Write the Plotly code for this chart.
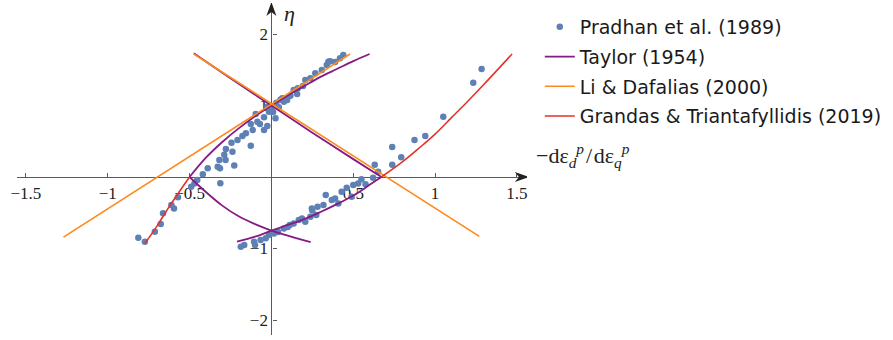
import plotly.graph_objects as go

# ---- Experimental data: Pradhan et al. (1989) ----
data_x = [
    # compression branch (upper band)
    -0.389, -0.328, -0.318, -0.314, -0.288, -0.278, -0.28, -0.244, -0.238, -0.227,
    -0.207, -0.177, -0.156, -0.126, -0.126, -0.114, -0.096, -0.086, -0.07, -0.045,
    -0.045, -0.025, -0.025, -0.015, 0.0, 0.01, 0.025, 0.03, 0.045, 0.055,
    0.066, 0.076, 0.086, 0.096, 0.116, 0.136, 0.157, 0.161, 0.193, 0.207,
    0.238, 0.268, 0.308, 0.338, 0.348, 0.359, 0.389, 0.419, 0.439,
    # extension-side loading near the left crossing
    -0.813, -0.773, -0.712, -0.676, -0.662, -0.611, -0.595, -0.571, -0.49, -0.47,
    -0.453, -0.419, -0.312,
    # extension branch (lower band) and its continuation
    -0.187, -0.166, -0.106, -0.1, -0.066, -0.035, -0.015, 0.015, 0.04, 0.076,
    0.1, 0.112, 0.136, 0.167, 0.187, 0.207, 0.238, 0.247, 0.25, 0.274,
    0.282, 0.318, 0.332, 0.369, 0.389, 0.409, 0.429, 0.46, 0.49, 0.5,
    0.53, 0.55, 0.575, 0.621, 0.631, 0.652, 0.738, 0.738, 0.793, 0.874,
    0.94, 1.05, 1.233, 1.284,
]
data_y = [
    0.122, 0.144, 0.238, 0.122, 0.31, 0.39, 0.238, 0.48, 0.354, 0.16,
    0.517, 0.573, 0.611, 0.74, 0.436, 0.657, 0.88, 0.773, 0.741, 0.835,
    0.657, 0.983, 0.713, 0.913, 0.95, 0.91, 0.82, 1.04, 0.975, 1.08,
    1.10, 1.053, 1.10, 1.077, 1.137, 1.217, 1.161, 1.241, 1.273, 1.357,
    1.38, 1.45, 1.497, 1.566, 1.613, 1.62, 1.61, 1.66, 1.706,
    -0.85, -0.905, -0.765, -0.657, -0.508, -0.392, -0.44, -0.284, -0.135, -0.09,
    -0.042, 0.037, -0.089,
    -0.975, -0.95, -0.905, -0.95, -0.88, -0.857, -0.81, -0.79, -0.77, -0.72,
    -0.70, -0.67, -0.65, -0.60, -0.58, -0.625, -0.555, -0.44, -0.47, -0.53,
    -0.415, -0.39, -0.25, -0.32, -0.30, -0.37, -0.205, -0.15, -0.275, -0.112,
    -0.09, -0.033, -0.10, -0.01, 0.17, 0.075, 0.42, 0.17, 0.275, 0.517,
    0.573, 0.844, 1.319, 1.51,
]

# ---- Taylor (1954): four branches, separated by None ----
taylor_x = [
    -0.5, -0.4, -0.3, -0.2, -0.1, 0.0, 0.1, 0.2, 0.3, 0.4, 0.5, 0.6, None,
    -0.474, -0.25, 0.0, 0.25, 0.5, 0.672, None,
    -0.5, -0.4, -0.3, -0.2, -0.1, 0.0, 0.1, 0.24, None,
    -0.21, -0.1, 0.0, 0.1, 0.2, 0.3, 0.4, 0.5, 0.6, 0.672,
]
taylor_y = [
    0.0, 0.27, 0.49, 0.68, 0.85, 1.0, 1.14, 1.27, 1.40, 1.51, 1.62, 1.72, None,
    1.73, 1.38, 1.0, 0.62, 0.25, 0.0, None,
    0.0, -0.21, -0.40, -0.55, -0.66, -0.75, -0.82, -0.91, None,
    -0.905, -0.835, -0.75, -0.67, -0.59, -0.49, -0.38, -0.26, -0.11, 0.0,
]

# ---- Li & Dafalias (2000): two straight lines ----
ld_x = [-1.27, 0.48, None, -0.474, 1.27]
ld_y = [-0.84, 1.72, None, 1.72, -0.83]

# ---- Grandas & Triantafyllidis (2019) ----
gt_x = [-0.773, -0.70, -0.64, -0.57, -0.5, None,
        0.672, 0.8, 0.9, 1.0, 1.1, 1.2, 1.3, 1.47]
gt_y = [-0.93, -0.69, -0.47, -0.23, 0.0, None,
        0.0, 0.21, 0.40, 0.60, 0.83, 1.06, 1.30, 1.72]

x_ticks = [-1.5, -1, -0.5, 0.5, 1, 1.5]
x_tick_text = ["\u22121.5", "\u22121", "\u22120.5", "0.5", "1", "1.5"]
y_ticks = [-2, -1, 1, 2]
y_tick_text = ["\u22122", "\u22121", "1", "2"]

W, H = 893, 340
X0_PX, XPX_PER_UNIT = 267.5, 165.0
Y0_PX, YPX_PER_UNIT = 177.0, 71.5
AX_LEFT, AX_RIGHT, AX_TOP, AX_BOTTOM = 11, 525, 3, 335

x_range = [(AX_LEFT - X0_PX) / XPX_PER_UNIT, (AX_RIGHT - X0_PX) / XPX_PER_UNIT]
y_range = [(Y0_PX - AX_BOTTOM) / YPX_PER_UNIT, (Y0_PX - AX_TOP) / YPX_PER_UNIT]

BLUE = "#5E81B5"
PURPLE = "#861B86"
ORANGE = "#FF8A1C"
RED = "#E5322A"
AXIS = "#5a5a5a"

fig = go.Figure()
fig.add_trace(go.Scatter(
    x=data_x, y=data_y, mode="markers", name="Pradhan et al. (1989)",
    marker=dict(color=BLUE, size=6.5), legendgroup="a"))
fig.add_trace(go.Scatter(
    x=taylor_x, y=taylor_y, mode="lines", name="Taylor (1954)",
    line=dict(color=PURPLE, width=1.8, shape="spline"), legendgroup="b"))
fig.add_trace(go.Scatter(
    x=ld_x, y=ld_y, mode="lines", name="Li & Dafalias (2000)",
    line=dict(color=ORANGE, width=1.6), legendgroup="c"))
fig.add_trace(go.Scatter(
    x=gt_x, y=gt_y, mode="lines", name="Grandas & Triantafyllidis (2019)",
    line=dict(color=RED, width=1.6, shape="spline"), legendgroup="d"))

tick_font = dict(family="Liberation Serif, serif", size=17, color="#222222")

fig.update_xaxes(
    domain=[AX_LEFT / W, AX_RIGHT / W], range=x_range,
    anchor="free", position=1 - Y0_PX / H,
    showgrid=False, zeroline=False, showline=True, linecolor=AXIS, linewidth=1.2,
    ticks="inside", ticklen=4, tickcolor=AXIS, tickwidth=1,
    tickvals=x_ticks, ticktext=x_tick_text, tickfont=tick_font,
    layer="below traces",
)
fig.update_yaxes(
    domain=[1 - AX_BOTTOM / H, 1 - AX_TOP / H], range=y_range,
    anchor="free", position=X0_PX / W,
    showgrid=False, zeroline=False, showline=True, linecolor=AXIS, linewidth=1.2,
    ticks="inside", ticklen=4, tickcolor=AXIS, tickwidth=1,
    tickvals=y_ticks, ticktext=y_tick_text, tickfont=tick_font,
    layer="below traces",
)

# arrowheads at the ends of both axes
fig.add_shape(type="path", xref="x", yref="y", xsizemode="pixel", ysizemode="pixel",
              xanchor=x_range[1], yanchor=0,
              path="M2,0 L-12,5 L-8,0 L-12,-5 Z",
              fillcolor="#222222", line=dict(width=0))
fig.add_shape(type="path", xref="x", yref="y", xsizemode="pixel", ysizemode="pixel",
              xanchor=0, yanchor=y_range[1],
              path="M0,1 L-5,-13 L0,-9 L5,-13 Z",
              fillcolor="#222222", line=dict(width=0))

# axis titles
fig.add_annotation(
    x=278 / W, y=1 - 14 / H, xref="paper", yref="paper", xanchor="left", yanchor="middle",
    text="<i>\u03b7</i>", showarrow=False,
    font=dict(family="Liberation Serif, serif", size=22, color="#222222"))
fig.add_annotation(
    x=532 / W, y=1 - 156 / H, xref="paper", yref="paper", xanchor="left", yanchor="middle",
    text=("\u2212d\u03b5<sub><i>d</i></sub><sup><i>p</i></sup>\u200a/\u200a"
          "d\u03b5<sub><i>q</i></sub><sup><i>p</i></sup>"),
    showarrow=False,
    font=dict(family="Liberation Serif, serif", size=22, color="#222222"))

fig.update_layout(
    width=W, height=H,
    margin=dict(l=0, r=0, t=0, b=0),
    paper_bgcolor="white", plot_bgcolor="white",
    showlegend=True,
    legend=dict(
        x=538 / W, y=1 - 8 / H, xanchor="left", yanchor="top",
        font=dict(family="DejaVu Sans", size=19, color="#1a1a1a"),
        bgcolor="rgba(0,0,0,0)", tracegroupgap=2, itemwidth=30,
    ),
)

fig.write_html("out.html")
